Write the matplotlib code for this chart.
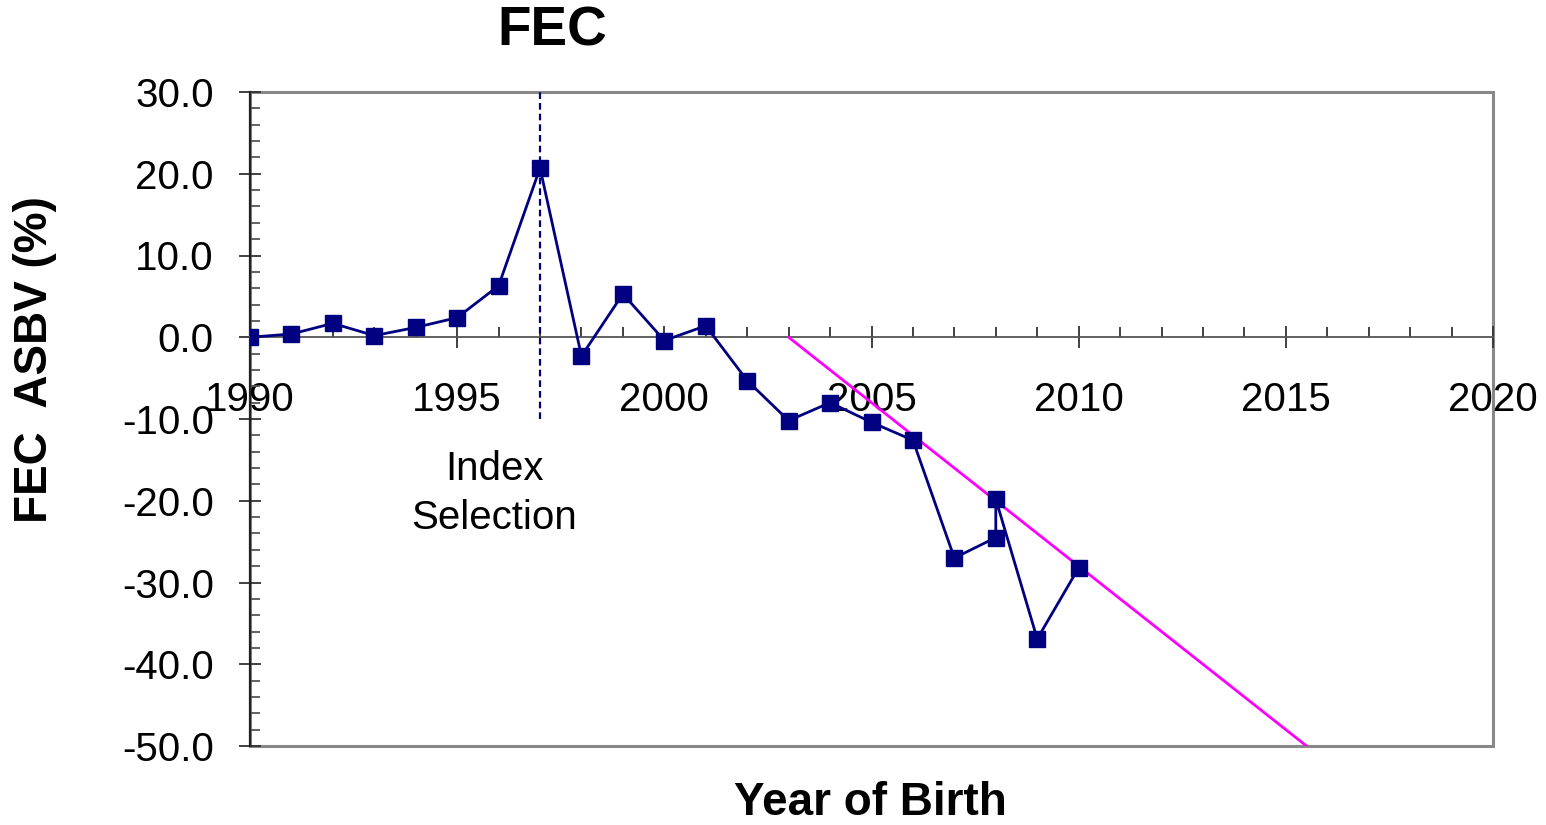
import matplotlib
matplotlib.use("Agg")
import matplotlib.pyplot as plt
from matplotlib.patches import Rectangle
from matplotlib.ticker import MultipleLocator, FormatStrFormatter

plt.rcParams['font.family'] = ['Liberation Sans', 'DejaVu Sans']

# values
years = [1990, 1991, 1992, 1993, 1994, 1995, 1996, 1997, 1998, 1999, 2000,
         2001, 2002, 2003, 2004, 2005, 2006, 2007, 2008, 2008, 2009, 2010]
fec_asbv = [0.0, 0.4, 1.7, 0.2, 1.2, 2.4, 6.3, 20.7, -2.3, 5.3, -0.4,
            1.4, -5.3, -10.2, -8.0, -10.4, -12.6, -27.0, -24.5, -19.8, -36.9, -28.2]

trend_years = [2003, 2015.5]
trend_vals = [0.0, -50.0]

index_year = 1997
index_span = [-10.0, 30.0]

navy = '#000080'

fig = plt.figure(figsize=(15.46, 8.25), dpi=100)
ax = fig.add_axes([250 / 1546, 1 - 746 / 825, 1243 / 1546, 654 / 825])

ax.plot(years, fec_asbv, color=navy, lw=2, marker='s', ms=11.5,
        markeredgecolor=navy, markerfacecolor=navy, zorder=4)
ax.plot(trend_years, trend_vals, color='#ff00ff', lw=2, zorder=3)
ax.plot([index_year, index_year], index_span, color=navy, lw=1.6,
        ls=(0, (3, 1.8)), zorder=3)

ax.text(1995.9, -19.1, "Index\nSelection", ha='center', va='center',
        fontsize=29, linespacing=1.35)

ax.set_xlim(1990, 2020)
ax.set_ylim(-50, 30)

# x axis sits on the zero line, grey frame around the plot area
ax.spines['bottom'].set_position(('data', 0))
ax.spines['bottom'].set_color('#555555')
ax.spines['bottom'].set_linewidth(1.3)
ax.spines['left'].set_color('#222222')
ax.spines['left'].set_linewidth(1.6)
ax.spines['top'].set_visible(False)
ax.spines['right'].set_visible(False)
ax.add_patch(Rectangle((0, 0), 1, 1, transform=ax.transAxes, fill=False,
                       edgecolor='#888888', lw=2.2, clip_on=False, zorder=1))

ax.xaxis.set_major_locator(MultipleLocator(5))
ax.xaxis.set_minor_locator(MultipleLocator(1))
ax.yaxis.set_major_locator(MultipleLocator(10))
ax.yaxis.set_minor_locator(MultipleLocator(2))
ax.yaxis.set_major_formatter(FormatStrFormatter('%.1f'))

ax.tick_params(axis='x', which='major', direction='inout', length=16,
               width=1.3, labelsize=29, pad=23.5, color='#333333')
ax.tick_params(axis='x', which='minor', direction='in', length=7,
               width=1.3, color='#333333')
ax.tick_params(axis='y', which='major', direction='inout', length=16,
               width=1.3, labelsize=29, pad=18, color='#333333')
ax.tick_params(axis='y', which='minor', direction='in', length=7,
               width=1.3, color='#555555')

fig.text(552 / 1546, 1 - 32 / 825, "FEC", ha='center', va='center',
         fontsize=39.5, fontweight='bold')
fig.text(870 / 1546, 1 - 803 / 825, "Year of Birth", ha='center',
         va='center', fontsize=33, fontweight='bold')
fig.text(35 / 1546, 1 - 360 / 825, "FEC  ASBV (%)", ha='center',
         va='center', rotation=90, fontsize=33, fontweight='bold')

fig.savefig("out.png", dpi=100)
